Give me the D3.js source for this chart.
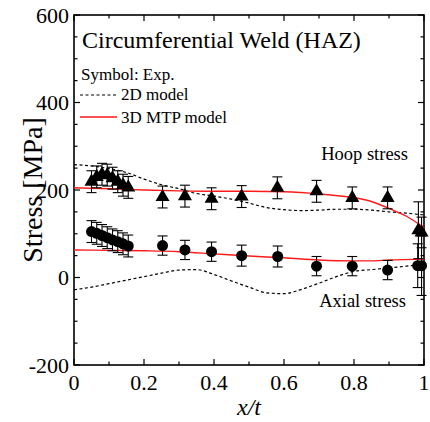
<!DOCTYPE html>
<html>
<head>
<meta charset="utf-8">
<script src="https://cdn.jsdelivr.net/npm/d3@7"></script>
<style>
  body { margin: 0; background: #fff; }
</style>
</head>
<body>
<div id="chart"></div>
<script>
// experimental points (symbols)
var hoopX   = [0.05, 0.065, 0.08, 0.095, 0.11, 0.125, 0.14, 0.155, 0.253, 0.317, 0.393, 0.479, 0.581, 0.693, 0.795, 0.896, 0.984, 0.993];
var hoopY   = [219, 230, 236, 234, 227, 219, 211, 206, 184, 186, 180, 185, 205, 197, 182, 182, 108, 103];
var hoopErr = [25, 25, 25, 25, 25, 25, 25, 25, 25, 25, 25, 25, 25, 25, 25, 25, 65, 35];

var axialX   = [0.05, 0.065, 0.08, 0.095, 0.11, 0.125, 0.14, 0.155, 0.253, 0.317, 0.393, 0.479, 0.582, 0.693, 0.795, 0.896, 0.982, 0.993];
var axialY   = [105, 101, 96, 91, 86, 82, 77, 72, 73, 63, 59, 50, 48, 26, 26, 17, 27, 27];
var axialErr = [25, 25, 25, 25, 25, 25, 25, 25, 22, 22, 22, 24, 24, 22, 22, 22, 50, 68];

// 3D MTP model (red)
var mtpHoopX = [0, 0.1, 0.2, 0.3, 0.4, 0.5, 0.6, 0.7, 0.84, 0.9, 0.95, 1];
var mtpHoopY = [205, 203, 200, 198, 197, 197, 196, 191, 176, 158, 140, 114];
var mtpAxialX = [0, 0.1, 0.2, 0.3, 0.4, 0.5, 0.6, 0.7, 0.8, 0.85, 0.9, 1];
var mtpAxialY = [63, 62, 61, 59, 54, 49, 45, 40, 38, 38, 40, 42];

// 2D model (dashed)
var m2dX      = [0, 0.05, 0.1, 0.15, 0.2, 0.25, 0.3, 0.35, 0.4, 0.45, 0.5, 0.55, 0.6, 0.65, 0.7, 0.75, 0.8, 0.85, 0.9, 0.95, 1];
var m2dHoopY  = [258, 255, 249, 240, 225, 212, 203, 192, 186, 179, 170, 160, 155, 153, 154, 156, 156, 154, 150, 147, 143];
var m2dAxialY = [-28, -22, -14, -6, 2, 10, 17, 18, 7, -8, -22, -35, -37, -27, -13, 2, 14, 18, 22, 26, 30];

var xTicks = [0, 0.2, 0.4, 0.6, 0.8, 1];
var yTicks = [-200, 0, 200, 400, 600];

var W = 430, H = 422;
var margin = {top: 15, right: 6, bottom: 57, left: 74};
var serif = "'Liberation Serif', 'Times New Roman', Times, 'DejaVu Serif', serif";

var svg = d3.select("#chart").append("svg")
    .attr("width", W)
    .attr("height", H)
    .attr("font-family", serif);

var x = d3.scaleLinear().domain([0, 1]).range([margin.left, W - margin.right]);
var y = d3.scaleLinear().domain([-200, 600]).range([H - margin.bottom, margin.top]);

var x0 = x.range()[0], x1 = x.range()[1], y0 = y.range()[0], y1 = y.range()[1];

// frame ticks (inward, mirrored)
var tickG = svg.append("g").attr("stroke", "#000").attr("stroke-width", 1.2);
d3.range(0, 1.0001, 0.1).forEach(function(v, i) {
  var len = (i % 2 === 0) ? 6 : 3.5;
  tickG.append("line").attr("x1", x(v)).attr("x2", x(v)).attr("y1", y0).attr("y2", y0 - len);
  tickG.append("line").attr("x1", x(v)).attr("x2", x(v)).attr("y1", y1).attr("y2", y1 + len);
});
d3.range(-200, 600.1, 50).forEach(function(v, i) {
  var len = (i % 4 === 0) ? 6 : 3.5;
  tickG.append("line").attr("y1", y(v)).attr("y2", y(v)).attr("x1", x0).attr("x2", x0 + len);
  tickG.append("line").attr("y1", y(v)).attr("y2", y(v)).attr("x1", x1).attr("x2", x1 - len);
});

svg.append("rect")
    .attr("x", x0).attr("y", y1)
    .attr("width", x1 - x0).attr("height", y0 - y1)
    .attr("fill", "none").attr("stroke", "#000").attr("stroke-width", 1.6);

// tick labels
svg.append("g").selectAll("text")
    .data(xTicks)
  .enter().append("text")
    .attr("x", function(d) { return x(d); })
    .attr("y", y0 + 25)
    .attr("text-anchor", "middle")
    .attr("font-family", serif)
    .attr("font-size", 22)
    .text(function(d) { return d3.format("~g")(d); });

svg.append("g").selectAll("text")
    .data(yTicks)
  .enter().append("text")
    .attr("x", x0 - 5)
    .attr("y", function(d) { return y(d); })
    .attr("dy", "0.35em")
    .attr("text-anchor", "end")
    .attr("font-family", serif)
    .attr("font-size", 22)
    .text(function(d) { return d; });

// axis titles
svg.append("text")
    .attr("transform", "translate(" + 42 + "," + 190 + ") rotate(-90)")
    .attr("text-anchor", "middle")
    .attr("font-family", serif)
    .attr("font-size", 28)
    .text("Stress [MPa]");

svg.append("text")
    .attr("x", (x0 + x1) / 2)
    .attr("y", 415)
    .attr("text-anchor", "middle")
    .attr("font-family", serif)
    .attr("font-size", 24)
    .attr("font-style", "italic")
    .text("x/t");

// model lines
var line = d3.line()
    .x(function(d) { return x(d[0]); })
    .y(function(d) { return y(d[1]); })
    .curve(d3.curveMonotoneX);

function pairs(xs, ys) { return xs.map(function(v, i) { return [v, ys[i]]; }); }

var lines = svg.append("g").attr("fill", "none");
lines.append("path").attr("d", line(pairs(m2dX, m2dHoopY)))
    .attr("stroke", "#000").attr("stroke-width", 1.2).attr("stroke-dasharray", "3,2.5");
lines.append("path").attr("d", line(pairs(m2dX, m2dAxialY)))
    .attr("stroke", "#000").attr("stroke-width", 1.2).attr("stroke-dasharray", "3,2.5");
lines.append("path").attr("d", line(pairs(mtpHoopX, mtpHoopY)))
    .attr("stroke", "#ff1a1a").attr("stroke-width", 1.4);
lines.append("path").attr("d", line(pairs(mtpAxialX, mtpAxialY)))
    .attr("stroke", "#ff1a1a").attr("stroke-width", 1.4);

// error bars
function errorBars(xs, ys, es) {
  var g = svg.append("g").attr("stroke", "#000").attr("stroke-width", 1.1);
  xs.forEach(function(v, i) {
    var cx = x(v), top = y(ys[i] + es[i]), bot = y(ys[i] - es[i]);
    g.append("line").attr("x1", cx).attr("x2", cx).attr("y1", top).attr("y2", bot);
    g.append("line").attr("x1", cx - 5).attr("x2", cx + 5).attr("y1", top).attr("y2", top);
    g.append("line").attr("x1", cx - 5).attr("x2", cx + 5).attr("y1", bot).attr("y2", bot);
  });
}
errorBars(hoopX, hoopY, hoopErr);
errorBars(axialX, axialY, axialErr);

var tri = d3.symbol().type(d3.symbolTriangle).size(85);
svg.append("g").selectAll("path")
    .data(hoopX)
  .enter().append("path")
    .attr("d", tri)
    .attr("transform", function(d, i) { return "translate(" + x(d) + "," + y(hoopY[i]) + ")"; })
    .attr("fill", "#000");

svg.append("g").selectAll("circle")
    .data(axialX)
  .enter().append("circle")
    .attr("cx", function(d) { return x(d); })
    .attr("cy", function(d, i) { return y(axialY[i]); })
    .attr("r", 5.5)
    .attr("fill", "#000");

// annotations
function label(px, py, size, txt, anchor) {
  svg.append("text").attr("x", px).attr("y", py)
      .attr("font-family", serif).attr("font-size", size)
      .attr("text-anchor", anchor || "start").text(txt);
}
label(82, 48, 24, "Circumferential Weld (HAZ)");
label(81, 80, 17, "Symbol: Exp.");

svg.append("line").attr("x1", 80).attr("x2", 116).attr("y1", 95).attr("y2", 95)
    .attr("stroke", "#000").attr("stroke-width", 1.2).attr("stroke-dasharray", "3,2.5");
label(121, 100, 17, "2D model");
svg.append("line").attr("x1", 80).attr("x2", 117).attr("y1", 117).attr("y2", 117)
    .attr("stroke", "#ff1a1a").attr("stroke-width", 1.4);
label(121, 123, 17, "3D MTP model");

label(408, 160, 18.5, "Hoop stress", "end");
label(406, 307, 18.5, "Axial stress", "end");
</script>
</body>
</html>
